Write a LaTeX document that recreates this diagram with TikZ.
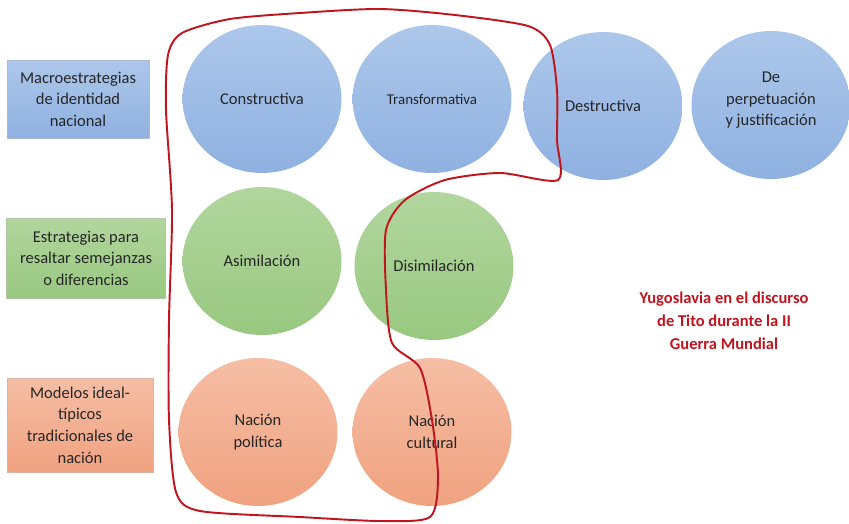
\documentclass[tikz,border=0pt]{standalone}
\usepackage{fontspec}
\setmainfont{Carlito}
\usetikzlibrary{shapes.geometric}
\definecolor{azulA}{RGB}{172,199,234}
\definecolor{azulB}{RGB}{143,177,225}
\definecolor{verdeA}{RGB}{178,214,158}
\definecolor{verdeB}{RGB}{152,200,128}
\definecolor{naranjaA}{RGB}{246,190,165}
\definecolor{naranjaB}{RGB}{240,162,128}
\definecolor{rojo}{RGB}{192,20,30}

\begin{document}
\begin{tikzpicture}[x=0.02cm,y=-0.02cm,
		blob/.style={ellipse,inner sep=0pt,minimum width=3.18cm,minimum height=2.96cm,
			align=center,text=black!85,font=\fontsize{9.4}{12.3}\selectfont},
		blobazul/.style={blob,top color=azulA,bottom color=azulB},
		blobverde/.style={blob,top color=verdeA,bottom color=verdeB},
		blobnaranja/.style={blob,top color=naranjaA,bottom color=naranjaB},
		caja/.style={rectangle,inner sep=0pt,align=center,text=black!85,
			font=\fontsize{9.4}{12.3}\selectfont},
		titulo/.style={align=center,text=rojo,font=\bfseries\fontsize{9.4}{13}\selectfont}]
		\useasboundingbox (0,0) rectangle (849,524);

		% filas de la izquierda
		\node[caja,top color=azulA,bottom color=azulB,draw=azulB!80!black!60,
			minimum width=2.84cm,minimum height=1.56cm] at (78,99)(macro)
			{Macroestrategias\\de identidad\\nacional};
		\node[caja,top color=verdeA,bottom color=verdeB,draw=verdeB!80!black!60,
			minimum width=3.18cm,minimum height=1.6cm] at (86,258)(semej)
			{Estrategias para\\resaltar semejanzas\\o diferencias};
		\node[caja,top color=naranjaA,bottom color=naranjaB,draw=naranjaB!80!black!60,
			minimum width=2.92cm,minimum height=1.88cm] at (80,425)(modelos)
			{Modelos ideal-\\típicos\\tradicionales de\\nación};

		% macroestrategias
		\node[blobazul] at (262,99)(constr){Constructiva};
		\node[blobazul,font=\fontsize{8.5}{12}\selectfont] at (432,99)(transf){Transformativa};
		\node[blobazul] at (603,106)(destr){Destructiva};
		\node[blobazul,text depth=7pt] at (771,105)(perpet){De\\perpetuación\\y justificación};

		% semejanzas / diferencias
		\node[blobverde] at (262,261)(asim){Asimilación};
		\node[blobverde] at (434,266)(disim){Disimilación};

		% modelos de nación
		\node[blobnaranja] at (258,432)(npol){Nación\\política};
		\node[blobnaranja] at (432,432)(ncult){Nación\\cultural};

		\node[titulo] at (724,321)(tito){Yugoslavia en el discurso\\de Tito durante la II\\Guerra Mundial};

		% contorno a mano alzada
		\draw[rojo,line width=1.1pt,line join=round] plot[smooth cycle,tension=0.45] coordinates {
			(182,33) (230,19) (300,13) (380,9) (455,15) (528,26) (550,45)
			(557,90) (557,140) (558,180) (500,173) (445,180) (405,200)
			(386,230) (386,290) (392,343) (420,368) (432,420) (438,478)
			(430,517) (380,521) (300,517) (200,511) (176,492) (169,420)
			(169,320) (172,210) (166,110) (168,55)};
	\end{tikzpicture}
\end{document}
